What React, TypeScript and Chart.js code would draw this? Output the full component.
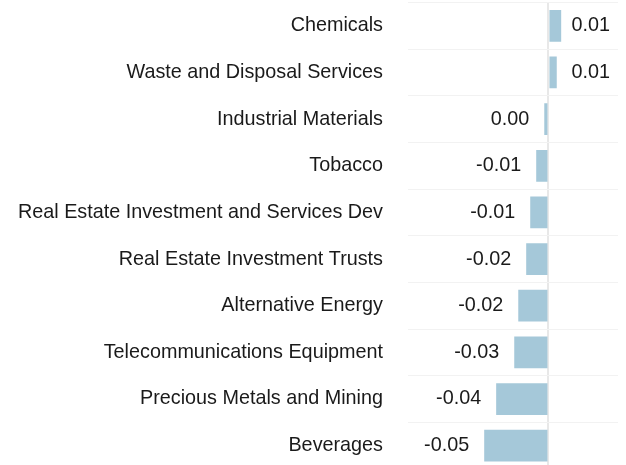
import React, { useEffect, useRef } from "react";
import { Chart, registerables } from "chart.js";

Chart.register(...registerables);

const categories = [
  "Chemicals",
  "Waste and Disposal Services",
  "Industrial Materials",
  "Tobacco",
  "Real Estate Investment and Services Dev",
  "Real Estate Investment Trusts",
  "Alternative Energy",
  "Telecommunications Equipment",
  "Precious Metals and Mining",
  "Beverages",
];

const values = [0.0098, 0.0064, -0.0032, -0.0094, -0.014, -0.0171, -0.0232, -0.0263, -0.0402, -0.0494];

const xMin = -0.108;
const xMax = 0.0535;

const FONT = "'Liberation Sans', Arial, sans-serif";
const FONT_SIZE = 19.8;
const TEXT_COLOR = "#1a1a1a";
const BAR_COLOR = "#a5c8d9";

function fmt(v: number): string {
  const s = v.toFixed(2);
  return s === "-0.00" ? "0.00" : s;
}

const valueLabels = {
  id: "valueLabels",
  afterDatasetsDraw(chart: any) {
    const ctx = chart.ctx;
    const meta = chart.getDatasetMeta(0);
    const xScale = chart.scales.x;
    const zero = xScale.getPixelForValue(0);
    ctx.save();
    ctx.font = `${FONT_SIZE}px ${FONT}`;
    ctx.fillStyle = TEXT_COLOR;
    ctx.textBaseline = "middle";
    meta.data.forEach((bar: any, i: number) => {
      const v = values[i];
      if (v < 0) {
        ctx.textAlign = "right";
        ctx.fillText(fmt(v), bar.x - 15, bar.y);
      } else {
        ctx.textAlign = "left";
        ctx.fillText(fmt(v), Math.max(bar.x + 9, zero + 23), bar.y);
      }
    });
    ctx.restore();
  },
};

export default function App() {
  const ref = useRef<HTMLCanvasElement | null>(null);
  useEffect(() => {
    if (!ref.current) return;
    const chart = new Chart(ref.current, {
      type: "bar",
      data: {
        labels: categories,
        datasets: [
          {
            data: values,
            backgroundColor: BAR_COLOR,
            borderWidth: 0,
            barPercentage: 0.68,
            categoryPercentage: 1,
          },
        ],
      },
      options: {
        indexAxis: "y",
        animation: false,
        responsive: true,
        maintainAspectRatio: false,
        layout: { padding: { top: 2.5, right: 8, bottom: 0, left: 0 } },
        plugins: {
          legend: { display: false },
          tooltip: { enabled: false },
        },
        scales: {
          x: {
            type: "linear",
            min: xMin,
            max: xMax,
            afterBuildTicks: (scale: any) => {
              scale.ticks = [{ value: 0 }];
            },
            ticks: { display: false },
            border: { display: false },
            grid: {
              drawTicks: false,
              color: (c: any) => (c.tick && c.tick.value === 0 ? "#e8e8e8" : "transparent"),
              lineWidth: 2,
            },
            afterFit: (scale: any) => {
              scale.height = 0;
              scale.paddingLeft = 0;
              scale.paddingRight = 0;
            },
          },
          y: {
            type: "category",
            offset: true,
            border: { display: false },
            grid: {
              offset: true,
              drawTicks: false,
              color: "#f2f2f2",
              lineWidth: 1,
            },
            ticks: {
              color: TEXT_COLOR,
              font: { family: FONT, size: FONT_SIZE },
              padding: 25,
            },
            afterFit: (scale: any) => {
              scale.width = 408;
              scale.paddingTop = 0;
              scale.paddingBottom = 0;
            },
          },
        },
      },
      plugins: [valueLabels],
    });
    return () => chart.destroy();
  }, []);
  return (
    <div style={{ position: "fixed", left: 0, top: 0, width: 626, height: 469 }}>
      <canvas ref={ref} />
    </div>
  );
}
